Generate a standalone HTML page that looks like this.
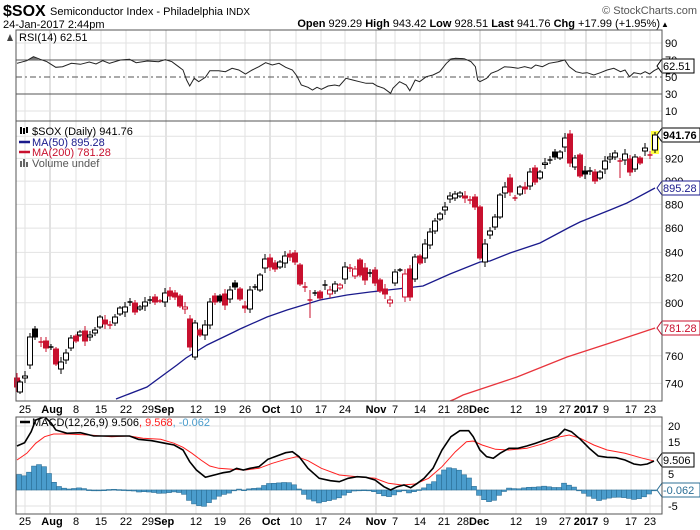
<!DOCTYPE html>
<html><head><meta charset="utf-8"><style>
body{margin:0;background:#fff;width:700px;height:530px;overflow:hidden;font-family:"Liberation Sans",sans-serif}
svg{display:block}
</style></head><body>
<script>
var h='';
var L=16,R=662;
function ln(x1,y1,x2,y2,c,w,d){h+='<line x1="'+x1+'" y1="'+y1+'" x2="'+x2+'" y2="'+y2+'" stroke="'+c+'" stroke-width="'+(w||1)+'"'+(d?' stroke-dasharray="'+d+'"':'')+'/>';}
function tx(x,y,t,s,c,a,b){h+='<text x="'+x+'" y="'+y+'" font-size="'+(s||11)+'" fill="'+(c||'#000')+'"'+(a?' text-anchor="'+a+'"':'')+(b?' font-weight="bold"':'')+'>'+t+'</text>';}
function pl(p,c,w,sx,sy,ox,oy,clip){var s=p.map(function(q){return ((q[0]*sx+ox).toFixed(1))+','+((q[1]*sy+oy).toFixed(1))}).join(' ');h+='<polyline points="'+s+'" fill="none" stroke="'+c+'" stroke-width="'+(w||1)+'"'+(clip?' clip-path="url(#'+clip+')"':'')+'/>';}
function box(x,y,t,c,b){var w=t.length*6+2;h+='<path d="M'+x+' '+y+' l5 -7 h'+w+' v14 h-'+w+' z" fill="#fff" stroke="'+c+'"/>';tx(x+6,y+4,t,11,c,null,b);}
try{
h+='<text x="3" y="16" font-size="16" font-weight="bold">$SOX</text>';
h+='<text x="50" y="15" font-size="11">Semiconductor Index - Philadelphia <tspan font-size="10">INDX</tspan></text>';
h+='<text x="697" y="14" font-size="11" fill="#555" text-anchor="end">\u00a9 StockCharts.com</text>';
h+='<text x="3" y="28" font-size="11">24-Jan-2017 2:44pm</text>';
h+='<text x="660" y="27" font-size="11" text-anchor="end"><tspan font-weight="bold">Open</tspan> 929.29 <tspan font-weight="bold">High</tspan> 943.42 <tspan font-weight="bold">Low</tspan> 928.51 <tspan font-weight="bold">Last</tspan> 941.76 <tspan font-weight="bold">Chg</tspan> +17.99 (+1.95%)</text>';
h+='<text x="661" y="27" font-size="8">\u25b2</text>';
h+='<defs><clipPath id="cm"><rect x="16" y="121" width="646" height="280"/></clipPath><clipPath id="cd"><rect x="16" y="417" width="646" height="97"/></clipPath></defs>';
}catch(e){}
try{
var wk=[25,76,101,126,150,196,220,245,296,321,345,395,420,444,516,541,565,606,631,650],mj=[50,166,270,376,480,586];
var panels=[[30,121],[121,401],[417,514]];
panels.forEach(function(p){wk.forEach(function(x){ln(x,p[0],x,p[1],'#e2e2e2');});mj.forEach(function(x){ln(x,p[0],x,p[1],'#c4c4c4');});});
}catch(e){}
function ry(v){return 77-(v-50)*0.85;}
try{
[90,10].forEach(function(v){ln(L,ry(v),R,ry(v),'#e2e2e2');});
ln(L,ry(70),R,ry(70),'#555');ln(L,ry(30),R,ry(30),'#555');ln(L,ry(50),R,ry(50),'#555',1,'6,3,2,3');
[90,70,50,30,10].forEach(function(v){tx(665,ry(v)+4,v);});
var rs=[[38,190],[60,182],[75,170],[90,178],[105,185],[125,202],[140,200],[160,190],[180,193],[200,186],[215,192],[230,182],[245,190],[270,180],[290,178],[305,188],[330,183],[355,185],[370,179],[385,185],[400,200],[410,210],[418,240],[425,258],[435,235],[445,245],[460,232],[470,212],[490,212],[505,215],[520,205],[535,210],[550,222],[565,210],[580,200],[595,188],[610,195],[625,190],[640,202],[655,210],[665,228],[675,255],[690,262],[700,270],[710,262],[720,268],[735,258],[750,255],[760,258],[775,235],[790,240],[805,245],[820,250],[835,250],[845,258],[860,265],[875,280],[880,265],[895,245],[910,255],[918,272],[930,240],[940,245],[955,230],[970,225],[985,215],[1000,190],[1010,178],[1020,175],[1040,176],[1055,185],[1065,200],[1070,240],[1075,245],[1090,235],[1100,220],[1115,212],[1130,200],[1145,202],[1160,205],[1175,200],[1190,205],[1200,195],[1215,200],[1230,190],[1250,185],[1265,180],[1275,200],[1290,215],[1305,220],[1315,218],[1330,225],[1345,218],[1360,210],[1375,205],[1390,215],[1400,210],[1410,230],[1420,218],[1435,222],[1445,215],[1455,222],[1465,212],[1475,205]];
h+='<path d="M27 60 L33 56.5 L40 60 Z" fill="#777"/><path d="M445 60 L452 58 L462 58 L468 60 Z" fill="#777"/>';
pl(rs,'#222',1,1/2.24,1/3,0,0);
tx(19,41,'RSI(14) 62.51',11,'#000');h+='<path d="M7 41 l3 -7 l3 7 z" fill="#444"/>';
box(657,66,'62.51','#000');
}catch(e){}
function py(v){return 7208-1033*Math.log(v);}
try{
[940,920,900,880,860,840,820,800,780,760,740].forEach(function(v){ln(L,py(v),R,py(v),'#e2e2e2');});
[920,900,880,860,840,820,800,760,740].forEach(function(v){tx(665,py(v)+4,v);});
var ma50=[[116,399],[147,387],[177,365],[186,358],[207,345],[234,332],[240,329],[267,317],[287,310],[320,300],[347,295],[370,292],[397,289],[423,286],[450,274],[480,262],[490,261],[510,253],[540,243],[570,227],[580,222],[610,210],[627,203],[655,188]];
var ma200=[[440,405],[455,399],[463,395],[517,377],[567,357],[610,343],[655,328]];
pl(ma50,'#1a1a8c',1.3,1,1,0,0,'cm');pl(ma200,'#e8343c',1.3,1,1,0,0,'cm');
}catch(e){}
try{
var C="17 r 378 387|20 w 382 392|25 w 376 378|30 w 337 365|35 b 329 337|41 x 342|46 r 341 348|51 c 347|56 r 349 364|61 w 362 369|66 w 353 360|71 w 338 348|76 r 336 341|80 w 332 335|85 r 331 341|90 w 335 337|95 w 330 333|100 w 317 327|105 r 320 324|110 x 325|115 w 317 323|120 w 308 314|125 w 307 312|130 c 302|135 r 303 312|140 w 307 309|145 w 302 306|150 c 300|155 r 297 302|160 x 301|165 w 293 302|170 r 291 296|175 r 293 297|180 r 296 306|185 h 307 309|190 r 319 347|195 w 323 357|200 r 330 335|205 w 325 335|210 w 302 325|215 r 296 302|220 b 296 301|225 r 294 305|230 w 290 299|235 b 283 287|240 r 289 299|245 r 306 308|250 w 290 309|255 c 287|260 w 275 290|265 w 259 268|270 r 258 267|275 r 263 269|280 w 262 267|285 w 256 263|290 r 254 257|295 r 253 262|300 r 265 284|305 x 287|310 x 300|315 c 293|320 r 292 298|325 c 285|330 h 290 294|335 w 284 291|340 h 285 288|345 w 267 279|350 x 268|355 h 269 276|360 r 260 275|365 r 268 280|370 c 273|375 r 270 283|380 r 280 291|385 r 289 294|390 h 300 303|395 w 272 283|400 c 270|405 h 274 297|410 r 269 297|415 w 257 279|420 r 256 263|425 w 244 258|430 w 232 245|435 w 221 231|440 w 214 219|445 w 207 210|450 w 196 199|455 w 194 198|460 w 193 196|465 r 196 198|470 x 200|475 r 197 207|480 r 207 258|485 w 244 262|490 w 231 235|495 w 217 227|500 w 195 217|505 w 187 193|510 r 178 192|515 x 198|520 w 187 194|525 r 187 189|530 w 172 186|535 r 168 182|540 w 172 178|545 w 163 164|550 c 160|555 b 152 157|560 w 152 158|565 w 138 147|570 r 134 163|575 w 158 167|580 r 155 176|585 b 171 174|590 c 171|595 r 172 181|600 w 172 178|605 w 161 169|610 w 157 159|615 w 153 157|620 x 161|625 w 154 160|630 r 159 172|635 w 157 169|640 r 158 163|645 w 148 151|650 x 155|655 y 135 150";
C.split('|').forEach(function(s){var a=s.split(' '),x=+a[0],t=a[1],y1=+a[2],y2=a[3]?+a[3]:y1;
 var red=(t=='r'||t=='h'||t=='x'),col=red?'#c8102e':'#000';
 var wt=y1-2-((x*7)%4),wb=y2+2+((x*3)%4);
 if(x==310){wt=290;wb=318;} if(x==620){wt=158;wb=178;}
 if(t=='y'){h+='<rect x="'+(x-4)+'" y="'+(y1-4)+'" width="8" height="'+(y2-y1+8)+'" fill="#ffff40"/>';}
 ln(x,wt,x,wb,col);
 if(t=='c'||t=='x'){ln(x-2.5,y1,x+2.5,y1,col,1.5);return;}
 var fill=(t=='r'||t=='b')?col:'#fff';
 h+='<rect x="'+(x-2.5)+'" y="'+y1+'" width="5" height="'+Math.max(y2-y1,1.5)+'" fill="'+fill+'" stroke="'+col+'" stroke-width="1"/>';
});
}catch(e){}
try{
tx(32,135,'$SOX (Daily) 941.76',11,'#000');
h+='<rect x="20" y="127" width="2" height="7" fill="#000"/><rect x="23" y="128" width="2" height="6" fill="#000"/><rect x="26" y="127" width="2" height="6" fill="#000"/>';
ln(19,142,30,142,'#1a1a8c',2.5);tx(32,146,'MA(50) 895.28',11,'#1a1a8c');
ln(19,152,30,152,'#c8102e',2.5);tx(32,156,'MA(200) 781.28',11,'#c8102e');
h+='<rect x="20" y="161" width="2" height="6" fill="#666"/><rect x="23" y="159" width="2" height="8" fill="#666"/><rect x="26" y="162" width="2" height="5" fill="#666"/>';
tx(32,167,'Volume undef',11,'#555');
box(657,135,'941.76','#000',true);box(657,188,'895.28','#1a1a8c');box(657,328,'781.28','#c8102e');
}catch(e){}
try{
var XL=[[25,'25'],[52,'Aug',1],[76,'8'],[101,'15'],[126,'22'],[158,'29Sep',2],[196,'12'],[220,'19'],[245,'26'],[271,'Oct',1],[296,'10'],[321,'17'],[345,'24'],[376,'Nov',1],[395,'7'],[420,'14'],[444,'21'],[473,'28Dec',2],[516,'12'],[541,'19'],[565,'27'],[586,'2017',1],[606,'9'],[631,'17'],[650,'23']];
var xl=function(y){XL.forEach(function(q){if(q[2]==2){var n=q[1].slice(0,2),m=q[1].slice(2);h+='<text x="'+q[0]+'" y="'+y+'" font-size="11" text-anchor="middle">'+n+'<tspan font-weight="bold">'+m+'</tspan></text>';}else tx(q[0],y,q[1],11,'#000','middle',q[2]==1);});};
xl(413);xl(525);
}catch(e){}
function my(v){return 490-v*3.2;}
function interp(a,x){for(var i=1;i<a.length;i++){if(a[i][0]>=x){var p=a[i-1],q=a[i],t=(x-p[0])/(q[0]-p[0]);return p[1]+(q[1]-p[1])*t;}}return a[a.length-1][1];}
try{
[20,15,10,5,0,-5].forEach(function(v){ln(L,my(v),R,my(v),'#e2e2e2');});
[[20,'20'],[15,'15'],[5,'5'],[-5,'-5']].forEach(function(q){tx(668,my(q[0])+4,q[1]);});
var mac=[[38,168],[55,158],[70,125],[80,90],[100,80],[115,100],[125,120],[150,130],[180,128],[210,138],[240,138],[270,138],[290,138],[310,148],[340,152],[370,160],[390,165],[410,180],[425,215],[440,240],[460,262],[480,255],[500,248],[515,245],[530,235],[545,240],[560,235],[580,230],[600,208],[620,198],[640,188],[655,185],[670,200],[690,235],[715,265],[740,272],[760,275],[780,265],[800,260],[820,262],[840,270],[860,290],[875,300],[890,290],[905,285],[920,293],[935,280],[950,265],[970,235],[990,180],[1010,140],[1030,122],[1050,122],[1060,140],[1075,180],[1090,200],[1105,205],[1120,190],[1140,175],[1160,175],[1180,168],[1200,160],[1220,150],[1250,138],[1265,118],[1280,125],[1300,148],[1320,175],[1340,198],[1360,202],[1380,203],[1400,210],[1420,222],[1435,225],[1450,222],[1465,213]];
var sig=[[38,210],[60,190],[80,160],[100,140],[120,132],[150,132],[200,135],[250,140],[290,138],[320,145],[360,148],[390,160],[410,172],[430,190],[450,210],[470,228],[490,235],[520,238],[550,240],[580,235],[610,220],[640,208],[665,200],[690,212],[720,235],[760,255],[800,260],[840,265],[870,280],[900,285],[930,282],[960,265],[990,230],[1020,185],[1045,155],[1060,153],[1080,165],[1110,178],[1140,180],[1180,175],[1220,160],[1255,140],[1275,135],[1300,145],[1330,165],[1360,180],[1400,190],[1440,205],[1465,213]];
for(var bx=19;bx<=655;bx+=5){var zx=bx*2.24;if(zx<38)zx=38;var dd=(interp(sig,zx)-interp(mac,zx))/3;var hh=dd*1.15;
 var ty=hh>0?490-hh:490,hgt=Math.max(Math.abs(hh),0.8);
 h+='<rect x="'+(bx-2.5)+'" y="'+ty.toFixed(1)+'" width="5" height="'+hgt.toFixed(1)+'" fill="#4a9ccc" stroke="#2c6f96" stroke-width="0.6"/>';}
pl(sig,'#ff2020',1,1/2.24,1/3,0,390,'cd');
pl(mac,'#000',1.6,1/2.24,1/3,0,390,'cd');
h+='<line x1="20" y1="422" x2="30" y2="422" stroke="#000" stroke-width="2.5"/>';
h+='<text x="32" y="426" font-size="11">MACD(12,26,9) 9.506<tspan fill="#ff2020">, 9.568</tspan><tspan fill="#4a9ccc">, -0.062</tspan></text>';
box(657,460,'9.506','#000');box(657,490,'-0.062','#2c6f96');
}catch(e){}
h+='<rect x="16" y="30" width="646" height="91" fill="none" stroke="#555"/>';
h+='<rect x="16" y="121" width="646" height="280" fill="none" stroke="#555"/>';
h+='<rect x="16" y="417" width="646" height="97" fill="none" stroke="#555"/>';
document.write('<svg width="700" height="530" xmlns="http://www.w3.org/2000/svg" font-family="Liberation Sans, sans-serif">'+h+'</svg>');
</script>
</body></html>
